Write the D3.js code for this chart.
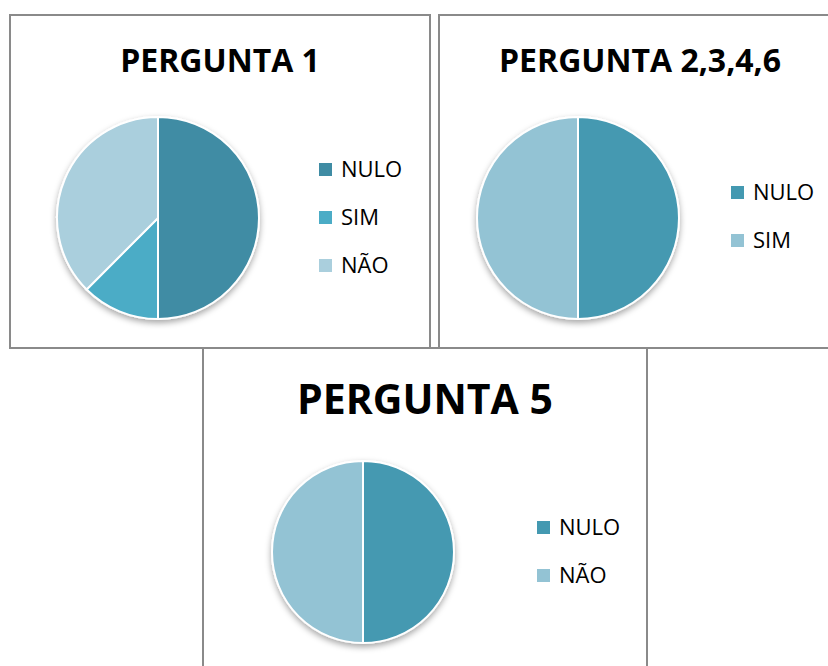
<!DOCTYPE html>
<html>
<head>
<meta charset="utf-8" />
<title>PERGUNTAS</title>
<script src="https://d3js.org/d3.v7.min.js"></script>
<style>
  body { margin: 0; background: #fff; }
  text { font-family: "Open Sans", "DejaVu Sans", sans-serif; fill: #000; }
</style>
</head>
<body>
<svg id="chart" width="828" height="666"></svg>
<script>
// pergunta 1
var p1Title = "PERGUNTA 1";
var p1Labels = ["NULO", "SIM", "NÃO"];
var p1Values = [4, 1, 3];
var p1Colors = ["#3f8ca4", "#4bacc6", "#aacfdd"];

// pergunta 2,3,4,6
var p2Title = "PERGUNTA 2,3,4,6";
var p2Labels = ["NULO", "SIM"];
var p2Values = [1, 1];
var p2Colors = ["#4499b1", "#93c3d4"];

// pergunta 5
var p5Title = "PERGUNTA 5";
var p5Labels = ["NULO", "NÃO"];
var p5Values = [1, 1];
var p5Colors = ["#4499b1", "#93c3d4"];

var svg = d3.select("#chart");

var defs = svg.append("defs");
defs.append("filter").attr("id", "shadow")
  .attr("x", "-20%").attr("y", "-20%").attr("width", "140%").attr("height", "140%")
  .append("feDropShadow")
  .attr("dx", 0).attr("dy", 3).attr("stdDeviation", 3)
  .attr("flood-color", "#000").attr("flood-opacity", 0.35);

// panel frames
var frames = [
  {x: 10, y: 15, w: 420, h: 333},
  {x: 439, y: 15, w: 400, h: 333},
  {x: 203, y: 348, w: 444, h: 330}
];
svg.selectAll("rect.frame").data(frames).enter().append("rect")
  .attr("class", "frame")
  .attr("x", function(d){ return d.x; })
  .attr("y", function(d){ return d.y; })
  .attr("width", function(d){ return d.w; })
  .attr("height", function(d){ return d.h; })
  .attr("fill", "none")
  .attr("stroke", "#8a8a8a")
  .attr("stroke-width", 2);

function drawPanel(opt) {
  var g = svg.append("g");

  g.append("text")
    .attr("x", opt.titleX).attr("y", opt.titleY)
    .attr("text-anchor", "middle")
    .style("font-weight", "bold")
    .style("font-size", opt.titleSize + "px")
    .text(opt.title);

  var pie = d3.pie().sort(null).value(function(d){ return d; });
  var arc = d3.arc().innerRadius(0).outerRadius(opt.r);
  var color = d3.scaleOrdinal().domain(opt.labels).range(opt.colors);

  var pg = g.append("g")
    .attr("transform", "translate(" + opt.cx + "," + opt.cy + ")")
    .attr("filter", "url(#shadow)");

  pg.selectAll("path")
    .data(pie(opt.values))
    .enter().append("path")
    .attr("d", arc)
    .attr("fill", function(d, i){ return color(opt.labels[i]); })
    .attr("stroke", "#fff")
    .attr("stroke-width", 2)
    .attr("stroke-linejoin", "round");

  var leg = g.selectAll("g.leg")
    .data(opt.labels)
    .enter().append("g")
    .attr("class", "leg")
    .attr("transform", function(d, i){ return "translate(" + opt.legX + "," + (opt.legY + i * 48) + ")"; });

  leg.append("rect")
    .attr("x", 0).attr("y", -14)
    .attr("width", 13).attr("height", 13)
    .attr("fill", function(d){ return color(d); });

  leg.append("text")
    .attr("x", 22).attr("y", 0)
    .style("font-size", "22px")
    .text(function(d){ return d; });
}

drawPanel({title: p1Title, labels: p1Labels, values: p1Values, colors: p1Colors,
  titleX: 220, titleY: 72, titleSize: 32, cx: 158, cy: 218, r: 101, legX: 319, legY: 177});
drawPanel({title: p2Title, labels: p2Labels, values: p2Values, colors: p2Colors,
  titleX: 640, titleY: 72, titleSize: 32, cx: 578, cy: 218, r: 101, legX: 731, legY: 200});
drawPanel({title: p5Title, labels: p5Labels, values: p5Values, colors: p5Colors,
  titleX: 425, titleY: 414, titleSize: 41, cx: 363, cy: 552, r: 91, legX: 537, legY: 535});
</script>
</body>
</html>
